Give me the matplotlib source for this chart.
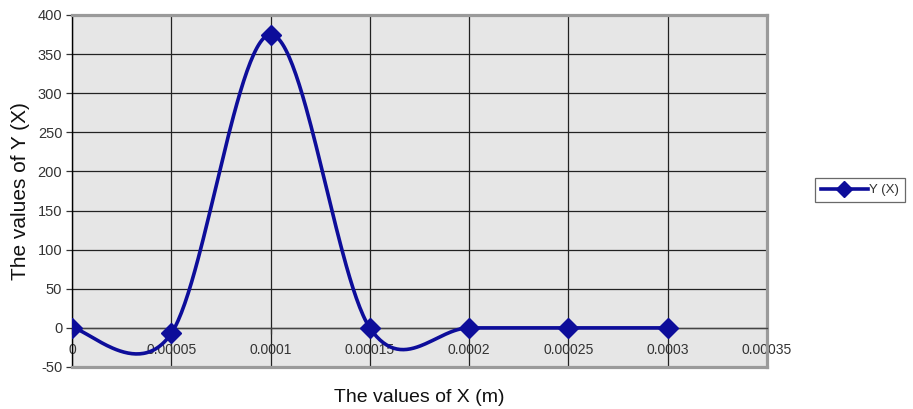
import numpy as np
import matplotlib
matplotlib.use("Agg")
import matplotlib.pyplot as plt
from matplotlib.lines import Line2D

x_vals = [0.0, 0.00005, 0.0001, 0.00015, 0.0002, 0.00025, 0.0003]
y_vals = [0, -7, 375, 0, 0, 0, 0]
series_name = "Y (X)"
x_ticks = [0.0, 0.00005, 0.0001, 0.00015, 0.0002, 0.00025, 0.0003, 0.00035]
x_tick_labels = ["0", "0.00005", "0.0001", "0.00015", "0.0002", "0.00025", "0.0003", "0.00035"]
y_ticks = [-50, 0, 50, 100, 150, 200, 250, 300, 350, 400]

plt.rcParams['font.family'] = ['Liberation Sans', 'DejaVu Sans']
plt.rcParams['axes.unicode_minus'] = False

def excel_smooth(xs, ys, n=60):
    P = np.column_stack([xs, ys]).astype(float)
    out = []
    for i in range(len(P) - 1):
        p0 = P[i - 1] if i > 0 else P[i]
        p1 = P[i]
        p2 = P[i + 1]
        p3 = P[i + 2] if i + 2 < len(P) else P[i + 1]
        c1 = p1 + (p2 - p0) / 6.0
        c2 = p2 - (p3 - p1) / 6.0
        t = np.linspace(0, 1, n)[:, None]
        seg = ((1 - t) ** 3) * p1 + 3 * ((1 - t) ** 2) * t * c1 + 3 * (1 - t) * t ** 2 * c2 + t ** 3 * p2
        out.append(seg if i == 0 else seg[1:])
    S = np.vstack(out)
    return S[:, 0], S[:, 1]

fig = plt.figure(figsize=(9.13, 4.09), dpi=100)
ax = fig.add_axes([72 / 913, 42 / 409, 695 / 913, 352 / 409])
ax.set_facecolor('#e6e6e6')

ax.set_xlim(0, 0.00035)
ax.set_ylim(-50, 400)
ax.set_xticks(x_ticks)
ax.set_xticklabels(x_tick_labels)
ax.set_yticks(y_ticks)

ax.grid(True, color='#222222', linewidth=0.9, zorder=1)
ax.set_axisbelow(True)

sx, sy = excel_smooth(x_vals, y_vals)
color = '#0d0d9a'
ax.plot(sx, sy, color=color, linewidth=2.6, zorder=3, solid_capstyle='round')
ax.plot(x_vals, y_vals, linestyle='none', marker='D', markersize=10,
        color=color, zorder=4)

# spines
ax.spines['left'].set_color('black')
ax.spines['left'].set_linewidth(1.0)
ax.spines['bottom'].set_position(('data', 0))
ax.spines['bottom'].set_color('#444444')
ax.spines['bottom'].set_linewidth(1.0)
for s in ['top', 'right']:
    ax.spines[s].set_color('#9a9a9a')
    ax.spines[s].set_linewidth(2.3)
ax.add_line(Line2D([0, 1], [0, 0], transform=ax.transAxes, color='#9a9a9a',
                   linewidth=2.3, clip_on=False, zorder=5))

ax.tick_params(axis='y', direction='out', length=4, width=0.9, color='#333333',
               labelsize=10.5, labelcolor='#333333', pad=3)
ax.tick_params(axis='x', direction='out', length=4, width=0.9, color='#333333',
               labelsize=10, labelcolor='#333333', pad=7)

ax.set_ylabel("The values of Y (X)", fontsize=15, color='#111111')
ax.yaxis.set_label_coords(-0.060, 0.5)
ax.set_xlabel("The values of X (m)", fontsize=14, color='#111111')
ax.xaxis.set_label_coords(0.5, -0.062)

handle = Line2D([], [], color=color, linewidth=2.6, marker='D', markersize=8)
leg = fig.legend([handle], [series_name], loc='center left',
                 bbox_to_anchor=(808 / 913, 1 - 190 / 409), fontsize=9.5,
                 frameon=True, fancybox=False, handlelength=3.6,
                 handletextpad=0.1, borderpad=0.45, labelcolor='#333333')
leg.get_frame().set_edgecolor('#444444')
leg.get_frame().set_linewidth(0.9)

fig.savefig('out.png', dpi=100)
